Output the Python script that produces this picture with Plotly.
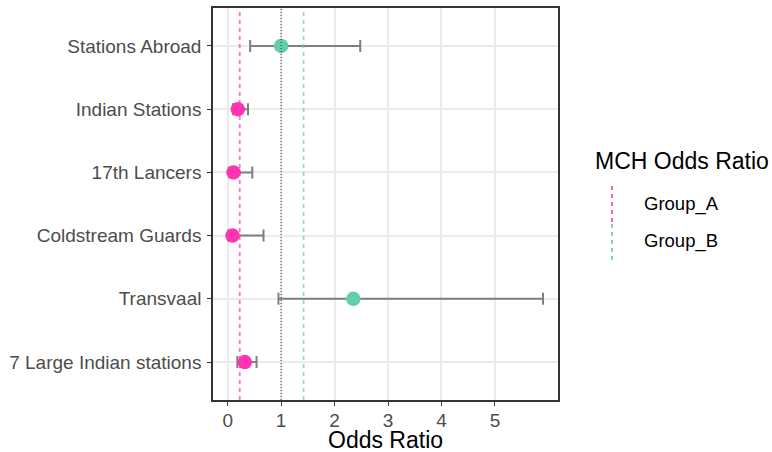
import plotly.graph_objects as go

# ---- data ----
categories = ["Stations Abroad", "Indian Stations", "17th Lancers",
              "Coldstream Guards", "Transvaal", "7 Large Indian stations"]
groups = ["Group_B", "Group_A", "Group_A", "Group_A", "Group_B", "Group_A"]
odds_ratio = [1.00, 0.19, 0.11, 0.09, 2.35, 0.32]
ci_low = [0.42, 0.10, 0.03, 0.01, 0.95, 0.18]
ci_high = [2.48, 0.38, 0.46, 0.67, 5.90, 0.54]
group_names = ["Group_A", "Group_B"]
group_mean_or = [0.225, 1.42]
reference_line = 1.0
x_ticks = [0, 1, 2, 3, 4, 5]

colors = {"Group_A": "#FF34B3", "Group_B": "#66CDAA"}

W, H = 772, 452
L, R, T, B = 213, 558, 8, 400  # panel pixel box

fig = go.Figure()

# vertical reference lines
fig.add_shape(type="line", xref="x", yref="paper", x0=reference_line, x1=reference_line,
              y0=0, y1=1, line=dict(color="#333333", width=1, dash="1px,2px"), layer="above")
for g, v in zip(group_names, group_mean_or):
    fig.add_shape(type="line", xref="x", yref="paper", x0=v, x1=v, y0=0, y1=1,
                  line=dict(color=colors[g], width=1.8, dash="4px,4px"), opacity=0.7, layer="above")

for g in group_names:
    idx = [i for i, gg in enumerate(groups) if gg == g]
    fig.add_trace(go.Scatter(
        x=[odds_ratio[i] for i in idx],
        y=[categories[i] for i in idx],
        mode="markers",
        marker=dict(size=14.5, color=colors[g]),
        error_x=dict(type="data", symmetric=False,
                     array=[ci_high[i] - odds_ratio[i] for i in idx],
                     arrayminus=[odds_ratio[i] - ci_low[i] for i in idx],
                     color="#7F7F7F", thickness=2, width=6),
        showlegend=False, name=g))

# manual legend (ggplot-style vertical dashed keys)
def px(xp):
    return (xp - L) / (R - L)

def py(yp):
    return (B - yp) / (B - T)

annotations = [dict(text="MCH Odds Ratio", xref="paper", yref="paper", x=px(593), y=py(161),
                    xanchor="left", yanchor="middle", showarrow=False,
                    font=dict(size=23, color="#000000")),
               dict(text="Odds Ratio", xref="paper", yref="paper", x=px(385.5), y=py(440),
                    xanchor="center", yanchor="middle", showarrow=False,
                    font=dict(size=23, color="#000000"))]
key_y = [(186, 222), (224, 260)]
label_y = [204, 241]
for g, (y0, y1), ly in zip(group_names, key_y, label_y):
    fig.add_shape(type="line", xref="paper", yref="paper", x0=px(612), x1=px(612),
                  y0=py(y0), y1=py(y1), line=dict(color=colors[g], width=1.6, dash="4px,4px"))
    annotations.append(dict(text=g, xref="paper", yref="paper", x=px(642), y=py(ly),
                            xanchor="left", yanchor="middle", showarrow=False,
                            font=dict(size=18.5, color="#000000")))

fig.update_layout(
    width=W, height=H,
    margin=dict(l=L, r=W - R, t=T, b=H - B, pad=0),
    paper_bgcolor="white", plot_bgcolor="white",
    font=dict(family="Liberation Sans, Arial, sans-serif"),
    annotations=annotations,
    xaxis=dict(range=[-0.275, 6.18], tickvals=x_ticks, ticktext=[str(t) for t in x_ticks],
               automargin=False, ticklabelstandoff=-2,
               showgrid=True, gridcolor="#EBEBEB", gridwidth=1.5, zeroline=False,
               ticks="outside", ticklen=4, tickcolor="#333333", tickwidth=1,
               tickfont=dict(size=19, color="#4D4D4D"),
               showline=True, linecolor="#333333", linewidth=1.5, mirror=True),
    yaxis=dict(type="category", categoryorder="array", categoryarray=categories[::-1],
               range=[-0.6, 5.6], automargin=False, ticklabelstandoff=2,
               showgrid=True, gridcolor="#EBEBEB", gridwidth=1.5, zeroline=False,
               ticks="outside", ticklen=4, tickcolor="#333333", tickwidth=1,
               tickfont=dict(size=19, color="#4D4D4D"),
               showline=True, linecolor="#333333", linewidth=1.5, mirror=True),
)

fig.write_html("out.html", config={"displayModeBar": False},
               post_script="document.body.style.margin='0px';")
